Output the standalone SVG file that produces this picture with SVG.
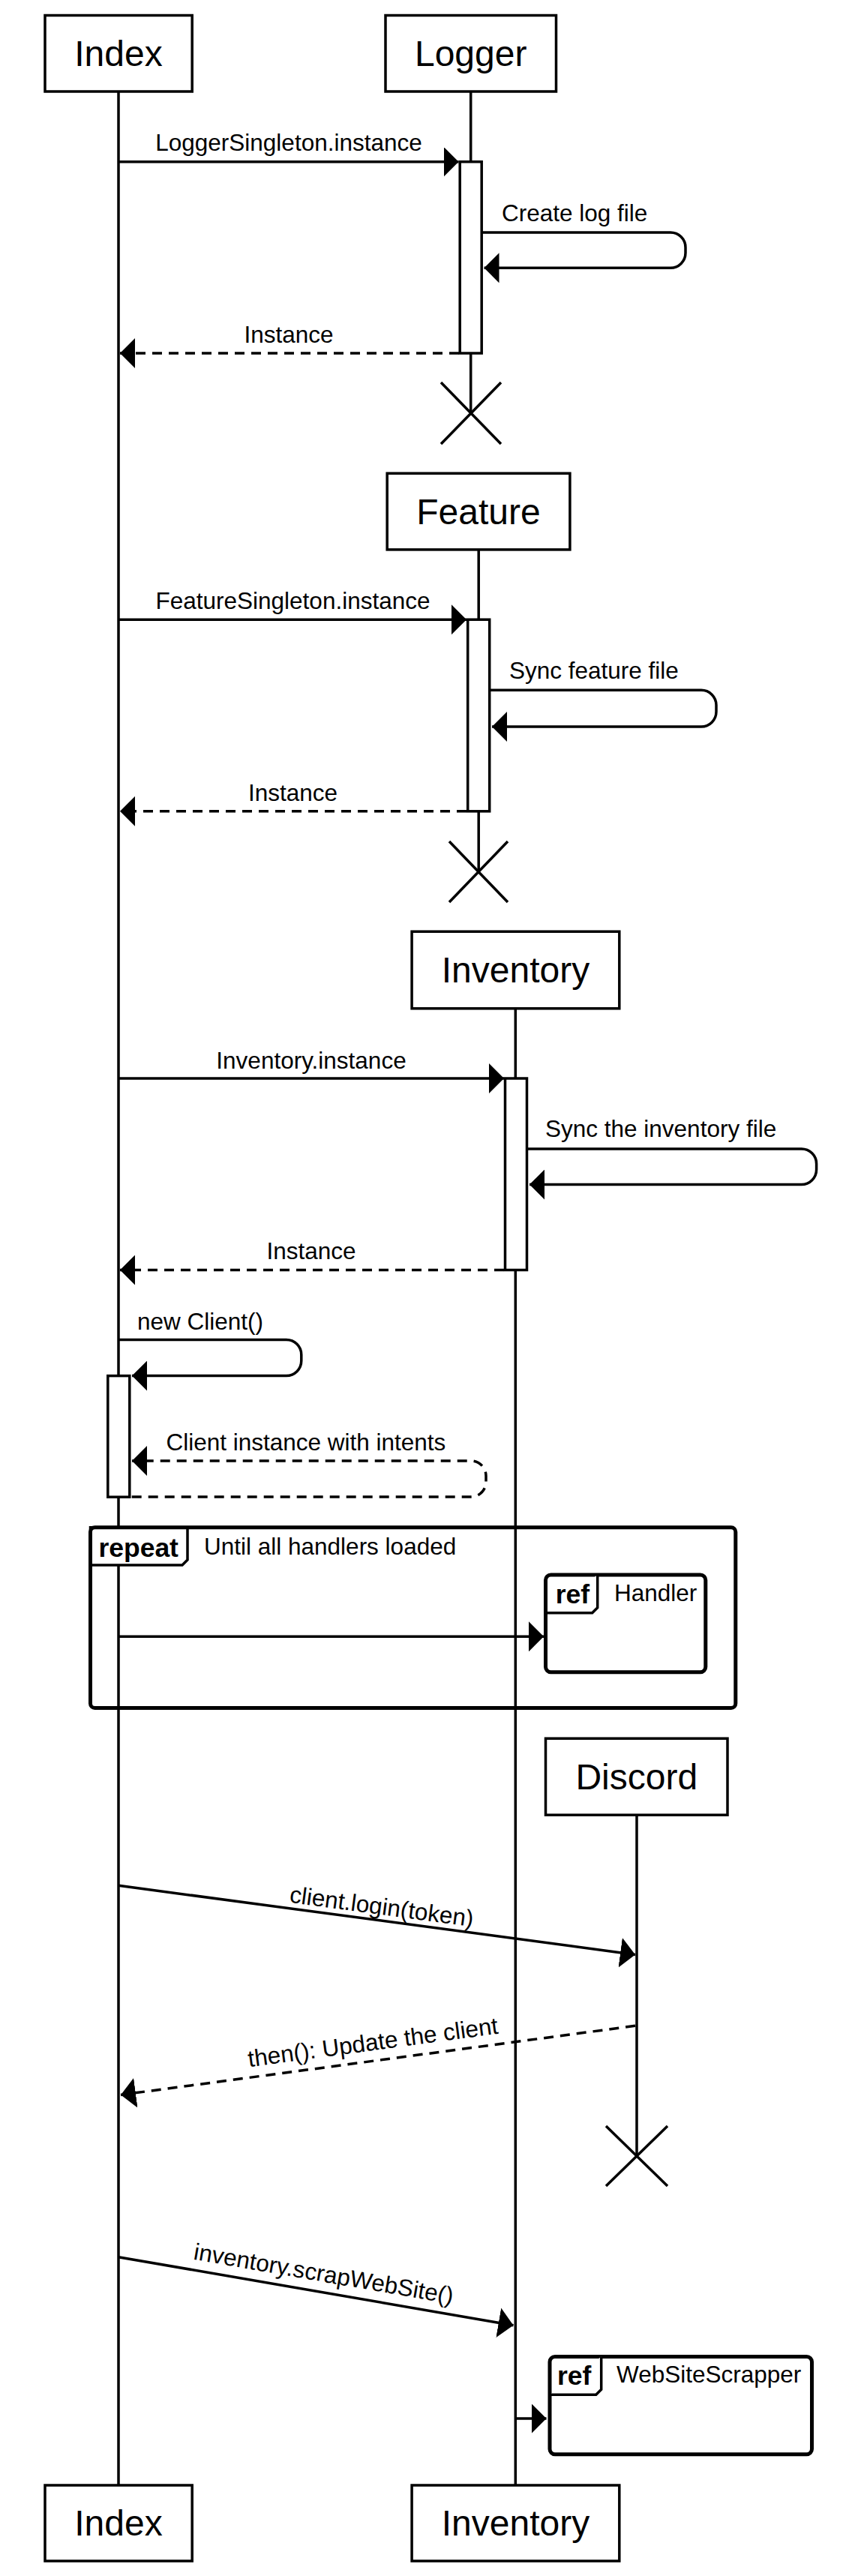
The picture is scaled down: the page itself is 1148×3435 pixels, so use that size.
<svg xmlns="http://www.w3.org/2000/svg" width="1148" height="3435" viewBox="0 0 1148 3435">
<style>
.box{fill:#fff;stroke:#000;stroke-width:3.5}
.life{stroke:#000;stroke-width:3.5;fill:none}
.act{fill:#fff;stroke:#000;stroke-width:3.5}
.msg{stroke:#000;stroke-width:3.5;fill:none;marker-end:url(#ah)}
.ret{stroke-dasharray:13 9}
.frame{fill:none;stroke:#000;stroke-width:5}
.reff{fill:#fff;stroke:#000;stroke-width:5}
.tab{fill:#fff;stroke:#000;stroke-width:3.5}
.x{stroke:#000;stroke-width:3.5;fill:none}
text{font-family:"Liberation Sans",Arial,Helvetica,sans-serif;fill:#000}
.title{font-size:48px;text-anchor:middle}
.lbl{font-size:31.5px}
.mid{text-anchor:middle}
.bold{font-size:35.5px;font-weight:bold}
</style>
<defs>
<marker id="ah" viewBox="0 0 20 40" refX="20" refY="20" markerWidth="20" markerHeight="40" markerUnits="userSpaceOnUse" orient="auto"><path d="M0,0L20,20L0,40Z" fill="#000"/></marker>
</defs>
<rect width="1148" height="3435" fill="#fff"/>
<g id="lifelines">
<line class="life" x1="158" y1="122" x2="158" y2="3314"/>
<line class="life" x1="627.7" y1="122" x2="627.7" y2="551"/>
<line class="life" x1="638.2" y1="733" x2="638.2" y2="1162"/>
<line class="life" x1="687.3" y1="1345" x2="687.3" y2="3314"/>
<line class="life" x1="849" y1="2420" x2="849" y2="2875"/>
</g>
<g id="destroy-logger"><path class="x" d="M588,510L668,592M668,510L588,592"/></g>
<g id="destroy-feature"><path class="x" d="M599,1122L677,1203M677,1122L599,1203"/></g>
<g id="destroy-discord"><path class="x" d="M808,2835L890,2915M890,2835L808,2915"/></g>
<g id="index-top"><rect class="box" x="60" y="20.5" width="196.2" height="101.5"/><text class="title" x="158" y="88">Index</text></g>
<g id="logger"><rect class="box" x="514" y="20.5" width="227.5" height="101.5"/><text class="title" x="627.7" y="88">Logger</text></g>
<g id="feature"><rect class="box" x="516.2" y="631.2" width="243.7" height="101.7"/><text class="title" x="638" y="699">Feature</text></g>
<g id="inventory-top"><rect class="box" x="549.1" y="1242.2" width="276.7" height="102.6"/><text class="title" x="687.5" y="1310">Inventory</text></g>
<g id="discord"><rect class="box" x="727.5" y="2318.2" width="242.5" height="102"/><text class="title" x="848.8" y="2386">Discord</text></g>
<g id="index-bottom"><rect class="box" x="60" y="3314" width="196.2" height="101"/><text class="title" x="158" y="3381">Index</text></g>
<g id="inventory-bottom"><rect class="box" x="549.1" y="3314" width="276.7" height="101"/><text class="title" x="687.5" y="3381">Inventory</text></g>
<g id="repeat-frame">
<path class="tab" d="M120.5,2036.7H250V2080L243,2087H120.5Z"/>
<rect class="frame" x="120.5" y="2036.7" width="860.3" height="240.8" rx="6"/>
<text class="bold" x="131.4" y="2076.4">repeat</text>
<text class="lbl" x="272" y="2073">Until all handlers loaded</text>
</g>
<g id="ref-handler">
<rect class="reff" x="727.5" y="2100" width="213.3" height="129.8" rx="7"/>
<path class="tab" d="M727.5,2150.7H789.7L796.7,2143.7V2100" fill="none"/>
<text class="bold" x="740.7" y="2138.3">ref</text>
<text class="lbl" x="819" y="2135">Handler</text>
</g>
<g id="ref-websitescrapper">
<rect class="reff" x="733" y="3142.5" width="349.5" height="130.3" rx="7"/>
<path class="tab" d="M733,3193.3H794.7L801.7,3186.3V3142.5" fill="none"/>
<text class="bold" x="743" y="3180">ref</text>
<text class="lbl" x="822" y="3176.5">WebSiteScrapper</text>
</g>
<g id="activations">
<rect class="act" x="613.2" y="215.7" width="29" height="255.3"/>
<rect class="act" x="623.7" y="826.2" width="29" height="255.6"/>
<rect class="act" x="673.5" y="1438" width="29" height="255.5"/>
<rect class="act" x="143.8" y="1834.6" width="29" height="161.6"/>
</g>
<g id="connectors">
<path class="msg" d="M158,215.7H611.5"/>
<path class="msg" d="M643,310H894A20,20 0 0 1 914,330V337.3A20,20 0 0 1 894,357.3H645.5"/>
<path class="msg ret" d="M612,471H160"/>
<path class="msg" d="M158,826.2H622"/>
<path class="msg" d="M654,920.3H935A20,20 0 0 1 955,940.3V949A20,20 0 0 1 935,969H656"/>
<path class="msg ret" d="M622,1081.8H160"/>
<path class="msg" d="M158,1438H672"/>
<path class="msg" d="M704,1532H1068.6A20,20 0 0 1 1088.6,1552V1559.6A20,20 0 0 1 1068.6,1579.6H706"/>
<path class="msg ret" d="M672,1693.5H160"/>
<path class="msg" d="M158,1786.4H381.8A20,20 0 0 1 401.8,1806.4V1814.6A20,20 0 0 1 381.8,1834.6H176"/>
<path class="msg ret" d="M175.7,1996H628A20,20 0 0 0 648,1976V1968A20,20 0 0 0 628,1948H176"/>
<path class="msg" d="M158,2182.3H725"/>
<path class="msg" d="M158,2514.3L847,2606.4"/>
<path class="msg ret" d="M847,2701.3L161,2793.4"/>
<path class="msg" d="M158,3009.7L684.5,3100.7"/>
<path class="msg" d="M687,3225H728.5"/>
</g>
<g id="labels">
<text class="lbl mid" x="385" y="201">LoggerSingleton.instance</text>
<text class="lbl" x="669" y="295">Create log file</text>
<text class="lbl mid" x="385" y="457">Instance</text>
<text class="lbl mid" x="390.5" y="812">FeatureSingleton.instance</text>
<text class="lbl" x="679" y="904.5">Sync feature file</text>
<text class="lbl mid" x="390.5" y="1068">Instance</text>
<text class="lbl mid" x="415" y="1424.6">Inventory.instance</text>
<text class="lbl" x="727" y="1516">Sync the inventory file</text>
<text class="lbl mid" x="415" y="1679">Instance</text>
<text class="lbl" x="183" y="1773">new Client()</text>
<text class="lbl" x="221.4" y="1933.6">Client instance with intents</text>
<text class="lbl mid" transform="translate(506.5,2560.9) rotate(7.61)" x="0" y="-8">client.login(token)</text>
<text class="lbl mid" transform="translate(500.5,2747.8) rotate(-7.65)" x="0" y="-14">then(): Update the client</text>
<text class="lbl mid" transform="translate(427.5,3056.3) rotate(9.81)" x="0" y="-14">inventory.scrapWebSite()</text>
</g>
</svg>
